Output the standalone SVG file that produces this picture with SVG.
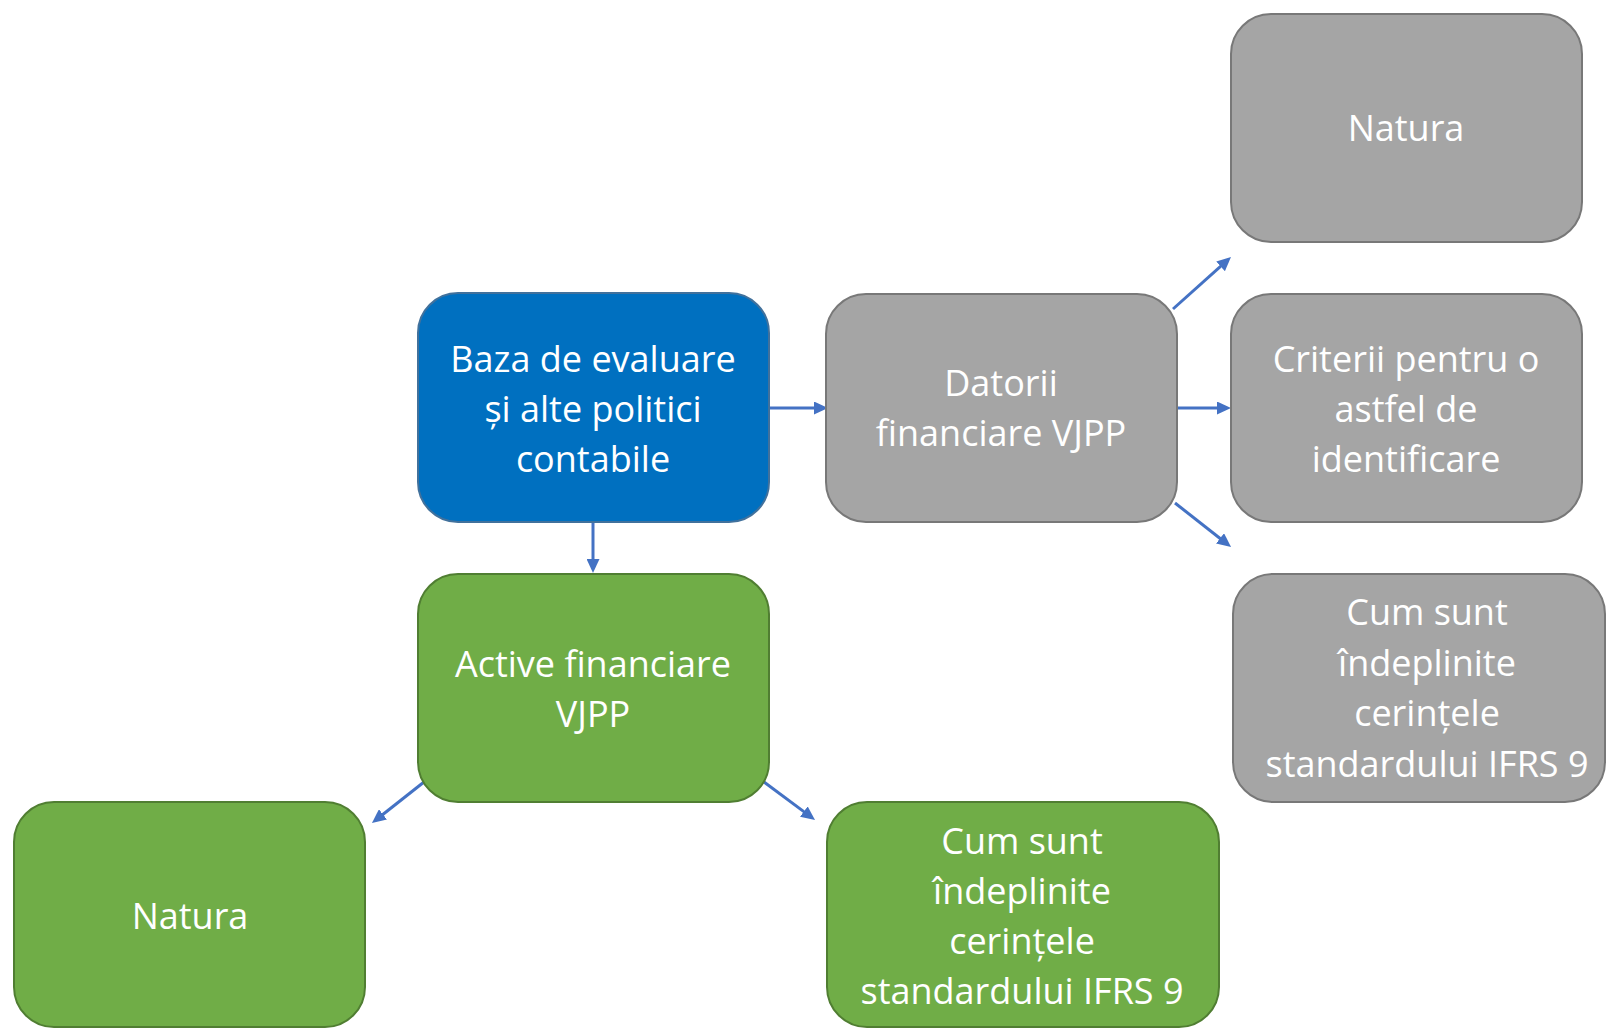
<svg xmlns="http://www.w3.org/2000/svg" width="1606" height="1028" viewBox="0 0 1606 1028">
<style>
.blue{fill:#0070C0;stroke:#41719C;stroke-width:2}
.gray{fill:#A5A5A5;stroke:#787878;stroke-width:2}
.green{fill:#70AD47;stroke:#507E32;stroke-width:2}
text{font-family:"Open Sans","Liberation Sans",sans-serif;font-size:36px;fill:#FFFFFF;text-anchor:middle}
.conn{stroke:#4472C4;stroke-width:3;fill:none;marker-end:url(#ah)}
</style>
<defs>
<marker id="ah" viewBox="0 0 14 13" refX="3" refY="6.5" markerWidth="14" markerHeight="13" markerUnits="userSpaceOnUse" orient="auto">
<path d="M0,0 L14,6.5 L0,13 z" fill="#4472C4"/>
</marker>
</defs>
<rect width="1606" height="1028" fill="#FFFFFF"/>
<g id="connectors">
<line class="conn" x1="769" y1="408" x2="817" y2="408"/>
<line class="conn" x1="593" y1="522" x2="593" y2="562"/>
<line class="conn" x1="1173" y1="309" x2="1222.8" y2="264.4"/>
<line class="conn" x1="1177" y1="408" x2="1220" y2="408"/>
<line class="conn" x1="1175" y1="503" x2="1222.4" y2="540.2"/>
<line class="conn" x1="424" y1="782" x2="380.6" y2="816.2"/>
<line class="conn" x1="764" y1="782" x2="806.2" y2="813.4"/>
</g>
<g id="baza">
<rect class="blue" x="418" y="293" width="351" height="229" rx="40"/>
<text x="593" y="372">Baza de evaluare</text>
<text x="593" y="422">și alte politici</text>
<text x="593" y="472">contabile</text>
</g>
<g id="datorii">
<rect class="gray" x="826" y="294" width="351" height="228" rx="40"/>
<text x="1001" y="396">Datorii</text>
<text x="1001" y="446">financiare VJPP</text>
</g>
<g id="natura-gray">
<rect class="gray" x="1231" y="14" width="351" height="228" rx="40"/>
<text x="1406" y="141">Natura</text>
</g>
<g id="criterii">
<rect class="gray" x="1231" y="294" width="351" height="228" rx="40"/>
<text x="1406" y="372">Criterii pentru o</text>
<text x="1406" y="422">astfel de</text>
<text x="1406" y="472">identificare</text>
</g>
<g id="cum-gray">
<rect class="gray" x="1233" y="574" width="372" height="228" rx="40"/>
<text x="1427" y="625">Cum sunt</text>
<text x="1427" y="676">îndeplinite</text>
<text x="1427" y="726">cerințele</text>
<text x="1427" y="777">standardului IFRS 9</text>
</g>
<g id="active">
<rect class="green" x="418" y="574" width="351" height="228" rx="40"/>
<text x="593" y="677">Active financiare</text>
<text x="593" y="727">VJPP</text>
</g>
<g id="natura-green">
<rect class="green" x="14" y="802" width="351" height="225" rx="40"/>
<text x="190" y="929">Natura</text>
</g>
<g id="cum-green">
<rect class="green" x="827" y="802" width="392" height="225" rx="40"/>
<text x="1022" y="854">Cum sunt</text>
<text x="1022" y="904">îndeplinite</text>
<text x="1022" y="954">cerințele</text>
<text x="1022" y="1004">standardului IFRS 9</text>
</g>
</svg>
